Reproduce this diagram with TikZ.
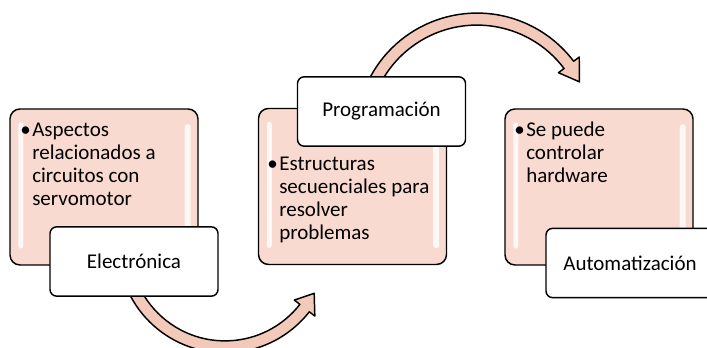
\documentclass[tikz,border=0pt]{standalone}
\usepackage{fontspec}
\setmainfont{Carlito}
\usetikzlibrary{calc,backgrounds}

\definecolor{boxpink}{HTML}{F8DAD0}
\definecolor{bendpink}{HTML}{F3C9BA}
\newcommand{\bodyfont}{\fontsize{15.75}{17.25}\selectfont}

\tikzset{
  panel/.style={draw, line width=1.1pt, fill=boxpink, rounded corners=7.5pt,
    minimum width=141pt, minimum height=117pt, inner sep=0pt},
  tag/.style={draw, line width=1.1pt, fill=white, rounded corners=5pt,
    minimum width=126pt, minimum height=52pt, inner sep=0pt, font=\bodyfont},
  bodytext/.style={anchor=north west, align=left, inner sep=0pt, font=\bodyfont},
  gloss/.style={fill=white, rounded corners=2pt, opacity=0.8},
  bendarrow/.style={draw, line width=1.1pt, fill=bendpink, line join=round}
}

\begin{document}
\begin{tikzpicture}[x=0.75pt, y=0.75pt]
\useasboundingbox (0,0) rectangle (707,348);
\clip (0,0) rectangle (707,348);

% the three panels
\node[panel] (p1) at (104,161) {};
\node[panel] (p2) at (352.5,161.5) {};
\node[panel] (p3) at (599,161) {};

\foreach \b in {p1,p2,p3}{
  \fill[gloss] ([shift={(9,-14)}]\b.north west) rectangle ([shift={(14,17)}]\b.south west);
  \fill[gloss] ([shift={(-14,-16)}]\b.north east) rectangle ([shift={(-8,17)}]\b.south east);
}

\node[bodytext] (t1) at (32,225) {\llap{\textbullet\hspace{1pt}}Aspectos\\relacionados a\\circuitos con\\servomotor};
\node[bodytext] (t2) at (279,191) {\llap{\textbullet\hspace{1pt}}Estructuras\\secuenciales para\\resolver\\problemas};
\node[bodytext] (t3) at (526,226.5) {\llap{\textbullet\hspace{1pt}}Se puede\\controlar\\hardware};

% titles
\node[tag] (l1) at (134,86.5) {Electrónica};
\node[tag] (l2) at (381.5,236.5) {Programación};
\node[tag] (l3) at (630,85) {Automatización};

% bent arrows between the steps
\coordinate (c1) at ($(l1.south)+(91,51)$);
\coordinate (c2) at ($(l2.north)+(95.5,-58)$);
\begin{pgfonlayer}{background}
\draw[bendarrow] ($(c1)+(205:107)$) arc[start angle=205, end angle=322, radius=107]
  -- ($(c1)+(322:114)$) -- ($(c1)+(332:101)$) -- ($(c1)+(322:88)$)
  -- ($(c1)+(322:95)$) arc[start angle=322, end angle=205, radius=95] -- cycle;
\draw[bendarrow] ($(c2)+(155:121)$) arc[start angle=155, end angle=37, radius=121]
  -- ($(c2)+(37:128)$) -- ($(c2)+(27:115)$) -- ($(c2)+(37:102)$)
  -- ($(c2)+(37:109)$) arc[start angle=37, end angle=155, radius=109] -- cycle;
\end{pgfonlayer}
\end{tikzpicture}
\end{document}
